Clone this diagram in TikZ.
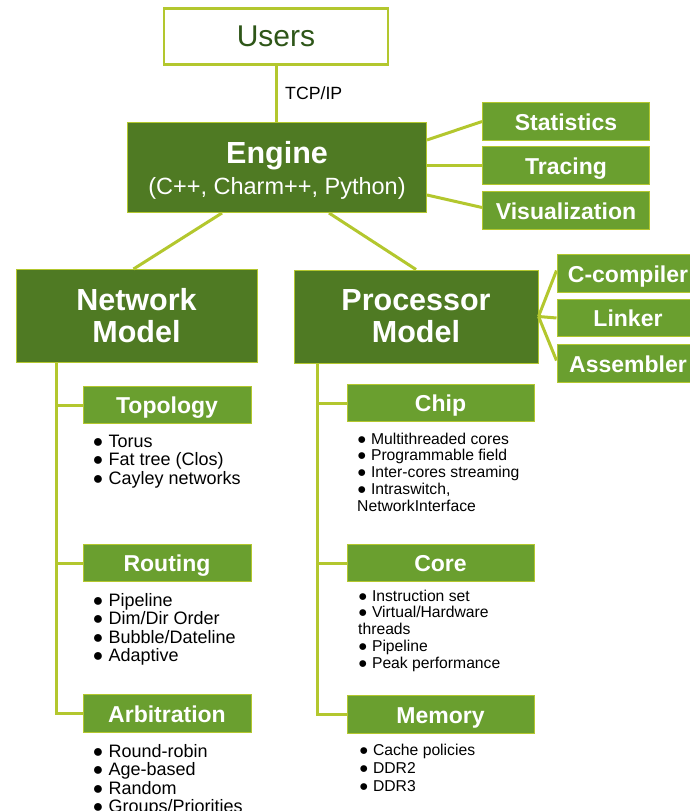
\documentclass[tikz,border=0pt]{standalone}
\usepackage{fontspec}
\setmainfont{Liberation Sans}
\usetikzlibrary{calc}
\definecolor{darkleaf}{HTML}{4F7A23}
\definecolor{leaf}{HTML}{6A9F2F}
\definecolor{lime}{HTML}{B3C72E}
\definecolor{usertext}{HTML}{2E5618}
\begin{document}
\begin{tikzpicture}[x=1pt,y=-1pt,
  link/.style={draw=lime, line width=3pt},
  userbox/.style={draw=lime, line width=2.5pt, fill=white, text=usertext,
    font=\fontsize{30}{32}\selectfont, minimum width=224pt, minimum height=56pt, inner sep=0pt},
  mainbox/.style={draw=lime, line width=1pt, fill=darkleaf, text=white,
    font=\bfseries\fontsize{30.5}{32}\selectfont, align=center, inner sep=0pt},
  subbox/.style={draw=lime, line width=1pt, fill=leaf, text=white,
    font=\bfseries\fontsize{23}{25}\selectfont, inner sep=0pt, minimum height=37.5pt,
    text height=17.4pt, text depth=0pt},
  bigitems/.style={anchor=north west, inner sep=0pt, align=left,
    font=\fontsize{18}{18.4}\selectfont},
  smallitems/.style={anchor=north west, inner sep=0pt, align=left,
    font=\fontsize{15.7}{16.8}\selectfont},
]
\useasboundingbox (0,0) rectangle (690,811);

% top of the hierarchy
\node[userbox] (users) at (276,36.5) {Users};
\node[mainbox, minimum width=299pt, minimum height=90pt] (engine) at (277,167.5)
  {\rule{0pt}{28pt}Engine\\[-1pt]{\normalfont\fontsize{23.5}{26}\selectfont (C++, Charm++, Python)}};
\node[anchor=base west, inner sep=0pt, font=\fontsize{17.7}{20}\selectfont] (tcp) at (285,99) {TCP/IP};

% engine tools
\node[subbox, minimum width=167pt] (stats) at (566,121.5) {Statistics};
\node[subbox, minimum width=167pt] (trace) at (566,165.5) {Tracing};
\node[subbox, minimum width=167pt] (vis)   at (566,210.5) {Visualization};

% the two models
\node[mainbox, minimum width=241pt, minimum height=93pt] (net)  at (136.5,316) {Network\\Model};
\node[mainbox, minimum width=244pt, minimum height=93pt] (proc) at (416,316.5) {Processor\\Model};

% tool chain
\node[subbox, minimum width=142pt] (ccomp)  at (628,273.5) {C-compiler};
\node[subbox, minimum width=142pt] (linker) at (628,318)   {Linker};
\node[subbox, minimum width=142pt] (asm)    at (628,363.5) {Assembler};

% network model parts
\node[subbox, minimum width=168pt] (topo) at (167,405)   {Topology};
\node[subbox, minimum width=168pt] (rout) at (167,563)   {Routing};
\node[subbox, minimum width=168pt] (arb)  at (167,713.5) {Arbitration};

% processor model parts
\node[subbox, minimum width=187pt] (chip) at (440.5,403)   {Chip};
\node[subbox, minimum width=187pt] (core) at (440.5,563)   {Core};
\node[subbox, minimum width=187pt] (mem)  at (440.5,714.5) {Memory};

% item lists
\node[bigitems] (topolist) at (92.5,435) {● Torus\\● Fat tree (Clos)\\● Cayley networks};
\node[bigitems] (routlist) at (92.5,593) {● Pipeline\\● Dim/Dir Order\\● Bubble/Dateline\\● Adaptive};
\node[bigitems] (arblist)  at (92.5,744) {● Round-robin\\● Age-based\\● Random\\● Groups/Priorities};
\node[smallitems] (chiplist) at (357,432.5) {● Multithreaded cores\\● Programmable field\\● Inter-cores streaming\\● Intraswitch,\\NetworkInterface};
\node[smallitems] (corelist) at (358,589.5) {● Instruction set\\● Virtual/Hardware\\threads\\● Pipeline\\● Peak performance};
\node[smallitems, font=\fontsize{15.7}{18}\selectfont] (memlist) at (359,743.5) {● Cache policies\\● DDR2\\● DDR3};

% connectors
\draw[link] (users.south) -- (users.south |- engine.north);
\draw[link] ([yshift=27.5pt]engine.east) -- (stats.west);
\draw[link] (engine.east |- trace.west) -- (trace.west);
\draw[link] ([yshift=-27.5pt]engine.east) -- ([yshift=3pt]vis.west);
\draw[link] ([xshift=-55pt]engine.south) -- ([xshift=-3pt]net.north);
\draw[link] ([xshift=52pt]engine.south) -- (proc.north);
\draw[link] (proc.east) -- ([yshift=3pt]ccomp.west);
\draw[link] (proc.east) -- (linker.west);
\draw[link] (proc.east) -- ([yshift=3pt]asm.west);

\coordinate (ntop) at ([xshift=-80.5pt]net.south);
\draw[link] (ntop) |- (arb.west);
\draw[link] (ntop |- topo.west) -- (topo.west);
\draw[link] (ntop |- rout.west) -- (rout.west);

\coordinate (ptop) at ([xshift=-99pt]proc.south);
\draw[link] (ptop) |- (mem.west);
\draw[link] (ptop |- chip.west) -- (chip.west);
\draw[link] (ptop |- core.west) -- (core.west);
\end{tikzpicture}
\end{document}
